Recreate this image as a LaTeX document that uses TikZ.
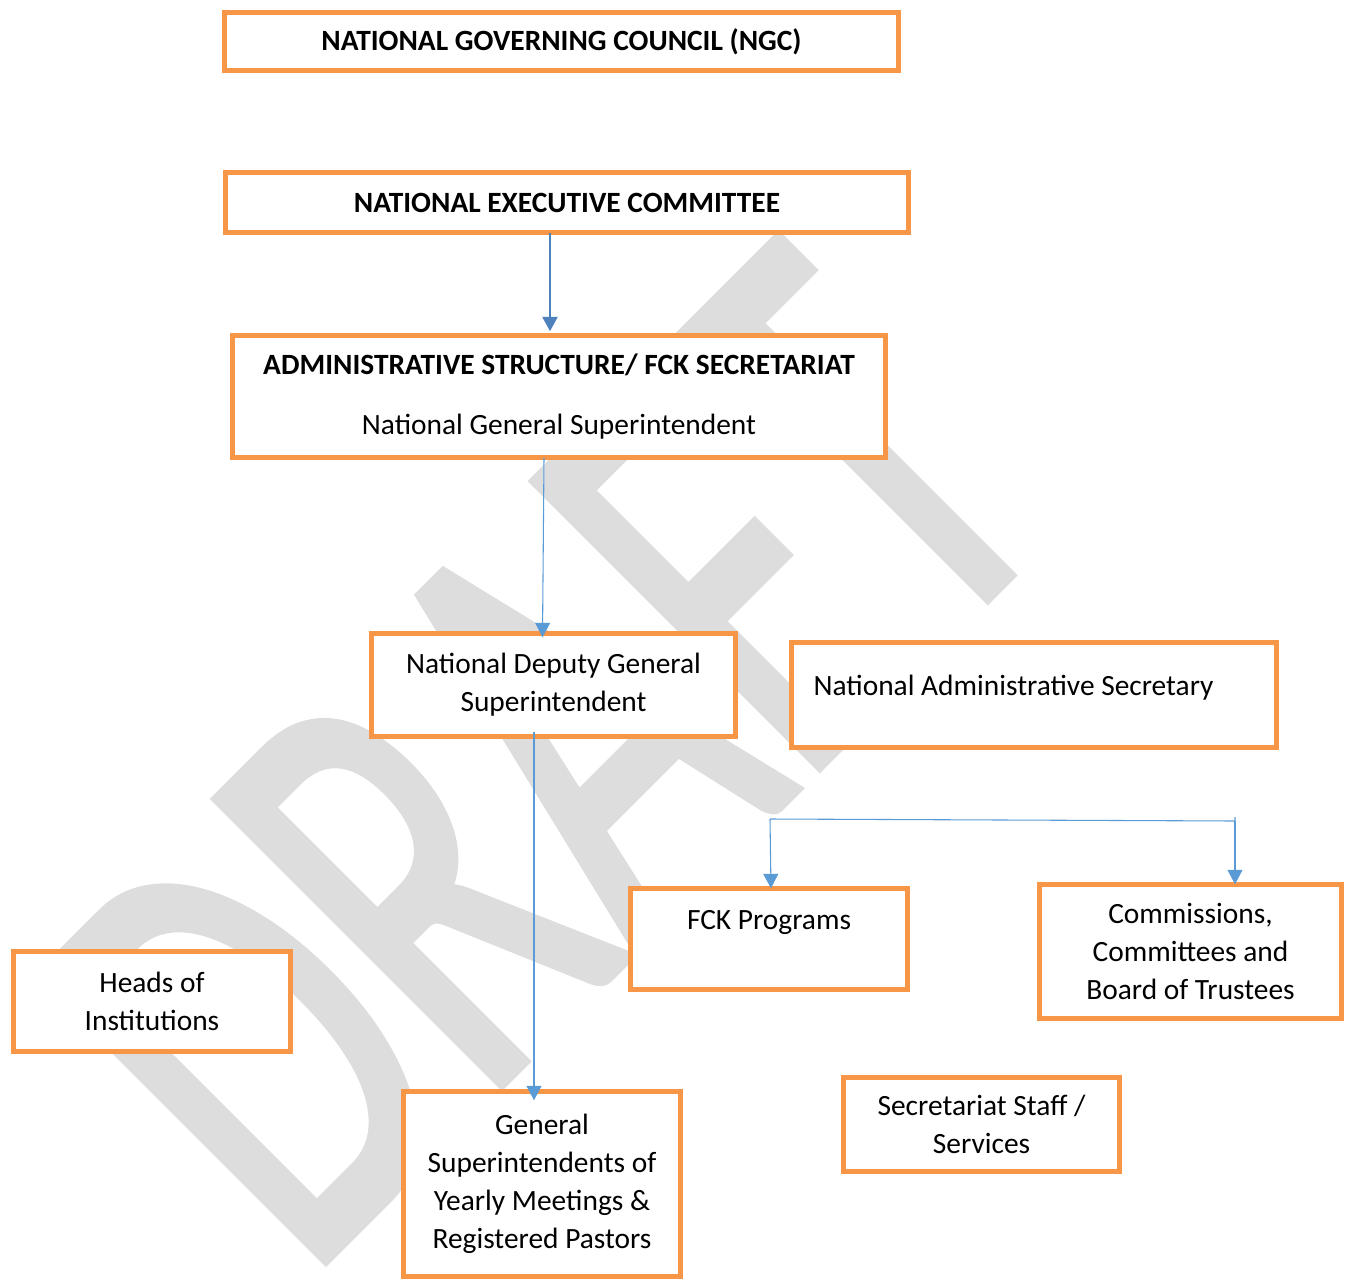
\documentclass[tikz,border=0pt]{standalone}
\usepackage{fontspec}
\usepackage{graphicx}
\setmainfont{Carlito}
\newfontfamily\wmfont[FakeBold=1.6]{Carlito}
\usetikzlibrary{arrows.meta,calc}

\definecolor{boxorange}{RGB}{247,150,70}
\definecolor{darkblue}{RGB}{79,129,189}
\definecolor{lightblue}{RGB}{91,155,213}
\definecolor{wmgray}{RGB}{221,221,221}

\tikzset{
  box/.style={draw=boxorange,line width=1.7pt,fill=white,align=center,inner sep=0pt,outer sep=0pt,
    font=\fontsize{11}{14.2}\selectfont},
  wh/.style 2 args={minimum width=#1*0.374pt-1.7pt,minimum height=#2*0.374pt-1.7pt},
  arr/.style={lightblue,line width=0.4pt,-{Triangle[width=5.6pt,length=5.4pt]}},
}

\begin{document}
\begin{tikzpicture}[x=0.374pt,y=-0.374pt]
\useasboundingbox (0,0) rectangle (1352,1279);

% watermark
\node[wmgray,rotate=45,anchor=base west,inner sep=0pt,font=\wmfont\fontsize{235}{235}\selectfont] (draft) at (305,1281) {\scalebox{0.64}[1]{DRAFT}};

\node[box,wh={679}{63}] (ngc) at (561.5,41.5) {\textbf{NATIONAL GOVERNING COUNCIL (NGC)}};
\node[box,wh={688}{65}] (nec) at (567,202.5) {\textbf{NATIONAL EXECUTIVE COMMITTEE}};
\node[box,wh={658}{127}] (adm) at (559,396.5) {\textbf{ADMINISTRATIVE STRUCTURE/ FCK SECRETARIAT}\\[8.2pt]National General Superintendent};
\node[box,wh={369}{108}] (ndgs) at (553.5,685) {National Deputy General\\Superintendent};
\node[box,wh={490}{110}] (nas) at (1034,695) {National Administrative Secretary\hspace*{15.3pt}\\[-7.1pt]~};
\node[box,wh={282}{106}] (fck) at (769,939) {FCK Programs\\~};
\node[box,wh={307}{139}] (com) at (1190.5,951.5) {Commissions,\\Committees and\\Board of Trustees};
\node[box,wh={282}{105}] (hoi) at (152,1001.5) {Heads of\\Institutions};
\node[box,wh={282}{190}] (gen) at (542,1184) {General\\Superintendents of\\Yearly Meetings \&\\Registered Pastors};
\node[box,wh={281}{99}] (sss) at (981.5,1124.5) {Secretariat Staff /\\Services};

\draw[arr,darkblue,line width=0.9pt] ($(nec.south)+(-17,0)$) -- ($(adm.north)+(-9,-4)$);
\draw[arr] ($(adm.south)+(-15,0)$) -- ($(ndgs.north)+(-11,4)$);
\draw[arr] ($(ndgs.south)+(-19.5,-5)$) -- ($(gen.north)+(-8,9)$);

% programs and commissions
\coordinate (brl) at (770,819);
\coordinate (brr) at (1235,821);
\draw[lightblue,line width=0.4pt] (brl) -- (brr) -- +(0,-4);
\draw[arr] (brl) -- ($(fck.north)+(2,0)$);
\draw[arr] (brr) -- (brr |- com.north);

\end{tikzpicture}
\end{document}
